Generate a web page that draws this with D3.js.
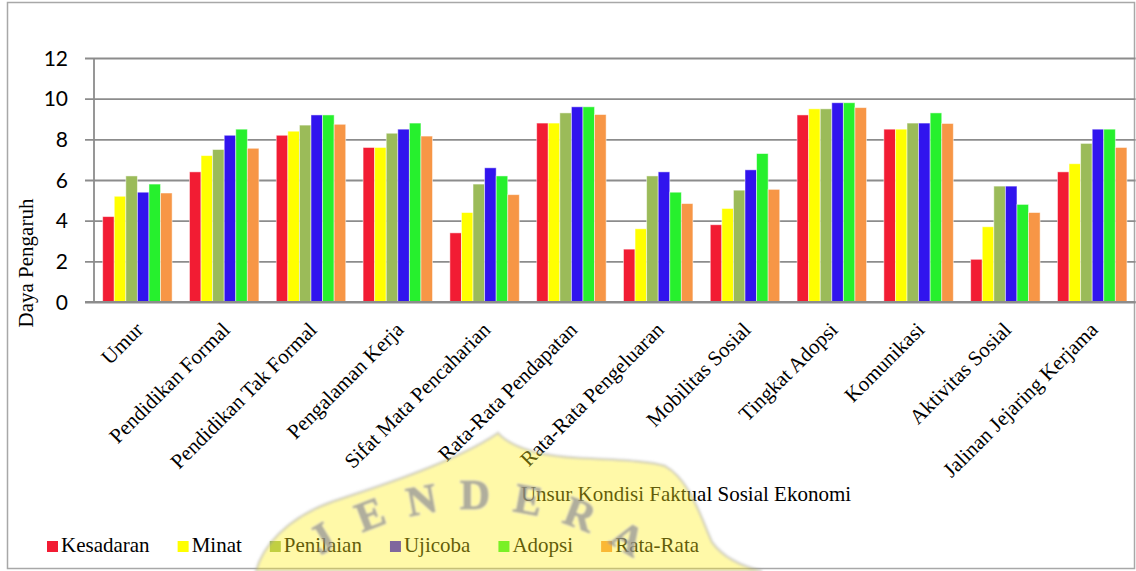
<!DOCTYPE html>
<html>
<head>
<meta charset="utf-8">
<script src="https://cdn.jsdelivr.net/npm/d3@7"></script>
<style>
  html, body { margin: 0; padding: 0; background: #fff; }
  svg { display: block; }
</style>
</head>
<body>
<svg id="chart" width="1136" height="571"></svg>
<script>
// Factual socio-economic condition factors
const categories = [
  "Umur", "Pendidikan Formal", "Pendidikan Tak Formal", "Pengalaman Kerja",
  "Sifat Mata Pencaharian", "Rata-Rata Pendapatan", "Rata-Rata Pengeluaran",
  "Mobilitas Sosial", "Tingkat Adopsi", "Komunikasi", "Aktivitas Sosial",
  "Jalinan Jejaring Kerjama"
];
const seriesNames = ["Kesadaran", "Minat", "Penilaian", "Ujicoba", "Adopsi", "Rata-Rata"];
const kesadaran = [4.2, 6.4, 8.2, 7.6, 3.4, 8.8, 2.6, 3.8, 9.2, 8.5, 2.1, 6.4];
const minat     = [5.2, 7.2, 8.4, 7.6, 4.4, 8.8, 3.6, 4.6, 9.5, 8.5, 3.7, 6.8];
const penilaian = [6.2, 7.5, 8.7, 8.3, 5.8, 9.3, 6.2, 5.5, 9.5, 8.8, 5.7, 7.8];
const ujicoba   = [5.4, 8.2, 9.2, 8.5, 6.6, 9.6, 6.4, 6.5, 9.8, 8.8, 5.7, 8.5];
const adopsi    = [5.8, 8.5, 9.2, 8.8, 6.2, 9.6, 5.4, 7.3, 9.8, 9.3, 4.8, 8.5];
const rataRata  = [5.36, 7.56, 8.74, 8.16, 5.28, 9.22, 4.84, 5.54, 9.56, 8.78, 4.4, 7.6];
const yTicks = [0, 2, 4, 6, 8, 10, 12];
const seriesColors = ["#F21C33", "#FFFF00", "#9BBB59", "#3114EE", "#26F02D", "#F79646"];

// letters of the emblem lettering that show inside the page
const emblemLetters = ["J", "E", "N", "D", "E", "R", "A"];

const seriesValues = [kesadaran, minat, penilaian, ujicoba, adopsi, rataRata];
const rows = categories.map((c, i) => ({
  category: c,
  values: seriesNames.map((s, j) => ({ series: s, value: seriesValues[j][i] }))
}));

const svg = d3.select("#chart");
const W = 1136, H = 571;
const plot = { left: 94, right: 1135.6, top: 58, bottom: 302 };

const serif = "'Liberation Serif', 'Times New Roman', serif";
const sans = "Lato, 'Noto Sans', sans-serif";

svg.append("rect").attr("width", W).attr("height", H).attr("fill", "#fff");

// outer chart frame
svg.append("rect")
  .attr("x", 7.5).attr("y", 2.5).attr("width", 1127).attr("height", 566)
  .attr("fill", "none").attr("stroke", "#a8a8a8").attr("stroke-width", 1.5);

const x0 = d3.scaleBand().domain(categories)
  .range([plot.left, plot.right]).paddingInner(0.2).paddingOuter(0.1);
const x1 = d3.scaleBand().domain(seriesNames).range([0, x0.bandwidth()]).padding(0);
const y = d3.scaleLinear().domain([0, 12]).range([plot.bottom, plot.top]);
const color = d3.scaleOrdinal().domain(seriesNames).range(seriesColors);

// horizontal gridlines with left tick marks
const yAxis = d3.axisLeft(y).tickValues(yTicks)
  .tickSize(-(plot.right - plot.left)).tickSizeOuter(0).tickFormat("");
const gy = svg.append("g").attr("transform", `translate(${plot.left},0)`).call(yAxis);
gy.select(".domain").remove();
gy.selectAll(".tick line")
  .attr("x1", -9)
  .attr("stroke", "#8c8c8c").attr("stroke-width", 1.8);

// y tick labels
svg.append("g").selectAll("text").data(yTicks).join("text")
  .attr("x", 68).attr("y", d => y(d)).attr("dy", "0.36em")
  .attr("text-anchor", "end")
  .style("font-family", sans).style("font-size", "21px").attr("fill", "#000")
  .text(d => d);

// vertical axis line
svg.append("line")
  .attr("x1", plot.left).attr("x2", plot.left)
  .attr("y1", y(12)).attr("y2", y(0))
  .attr("stroke", "#8c8c8c").attr("stroke-width", 1.8);

// bars
const groups = svg.append("g").selectAll("g").data(rows).join("g")
  .attr("transform", d => `translate(${x0(d.category)},0)`);
groups.selectAll("rect").data(d => d.values).join("rect")
  .attr("x", d => x1(d.series))
  .attr("y", d => y(d.value))
  .attr("width", x1.bandwidth())
  .attr("height", d => y(0) - y(d.value))
  .attr("fill", d => color(d.series))
  .attr("stroke", "#fff").attr("stroke-opacity", 0.55).attr("stroke-width", 0.9);

// baseline
svg.append("line")
  .attr("x1", plot.left - 9).attr("x2", plot.right)
  .attr("y1", y(0)).attr("y2", y(0))
  .attr("stroke", "#8c8c8c").attr("stroke-width", 2.2);

// category labels, rotated
svg.append("g").selectAll("text").data(categories).join("text")
  .attr("transform", d => `translate(${x0(d) + x0.bandwidth() / 2 + 7},${331}) rotate(-45)`)
  .attr("text-anchor", "end")
  .style("font-family", serif).style("font-size", "21px").attr("fill", "#000")
  .text(d => d);

// axis titles
svg.append("text")
  .attr("transform", "translate(33,263) rotate(-90)")
  .attr("text-anchor", "middle")
  .style("font-family", serif).style("font-size", "21px").attr("fill", "#000")
  .text("Daya Pengaruh");

svg.append("text")
  .attr("x", 686).attr("y", 501).attr("text-anchor", "middle")
  .style("font-family", serif).style("font-size", "21px").attr("fill", "#000")
  .text("Unsur Kondisi Faktual Sosial Ekonomi");

// legend
const legend = svg.append("g");
let lx = 47;
seriesNames.forEach(name => {
  const item = legend.append("g").attr("transform", `translate(${lx},0)`);
  item.append("rect").attr("x", 0).attr("y", 541).attr("width", 11).attr("height", 11)
    .attr("fill", color(name));
  const t = item.append("text").attr("x", 14).attr("y", 552)
    .style("font-family", serif).style("font-size", "21px").attr("fill", "#000")
    .text(name);
  lx += 14 + t.node().getComputedTextLength() + 28;
});

// faint institutional emblem laid over the lower part of the page
const defs = svg.append("defs");
defs.append("filter").attr("id", "soft")
  .attr("x", "-10%").attr("y", "-10%").attr("width", "120%").attr("height", "120%")
  .append("feGaussianBlur").attr("stdDeviation", 1.3);

const emblem = svg.append("g").attr("filter", "url(#soft)").style("pointer-events", "none");
const emblemShape = "M 256 571 C 262 548, 285 518, 334 501 C 380 486, 455 462, 498 433 " +
  "C 512 448, 540 456, 580 458 C 620 460, 650 461, 665 466 C 690 480, 700 515, 712 542 " +
  "C 725 560, 745 567, 762 571 Z";
emblem.append("path").attr("d", emblemShape)
  .attr("fill", "rgb(255,238,29)").attr("fill-opacity", 0.38)
  .attr("stroke", "#9a9a9a").attr("stroke-opacity", 0.35).attr("stroke-width", 3);

// lettering set on an arc around the emblem centre
const arcCentre = [475, 788], arcRadius = 279, arcStep = 10.5;
emblem.append("g").selectAll("text").data(emblemLetters).join("text")
  .attr("transform", (d, i) =>
    `translate(${arcCentre[0]},${arcCentre[1]}) rotate(${(i - 3) * arcStep}) translate(0,${-arcRadius})`)
  .attr("text-anchor", "middle")
  .style("font-family", serif).style("font-size", "42px").style("font-weight", "bold")
  .attr("fill", "#8e8e98").attr("fill-opacity", 0.7)
  .attr("stroke", "#8e8e98").attr("stroke-opacity", 0.5).attr("stroke-width", 1)
  .text(d => d);
</script>
</body>
</html>
